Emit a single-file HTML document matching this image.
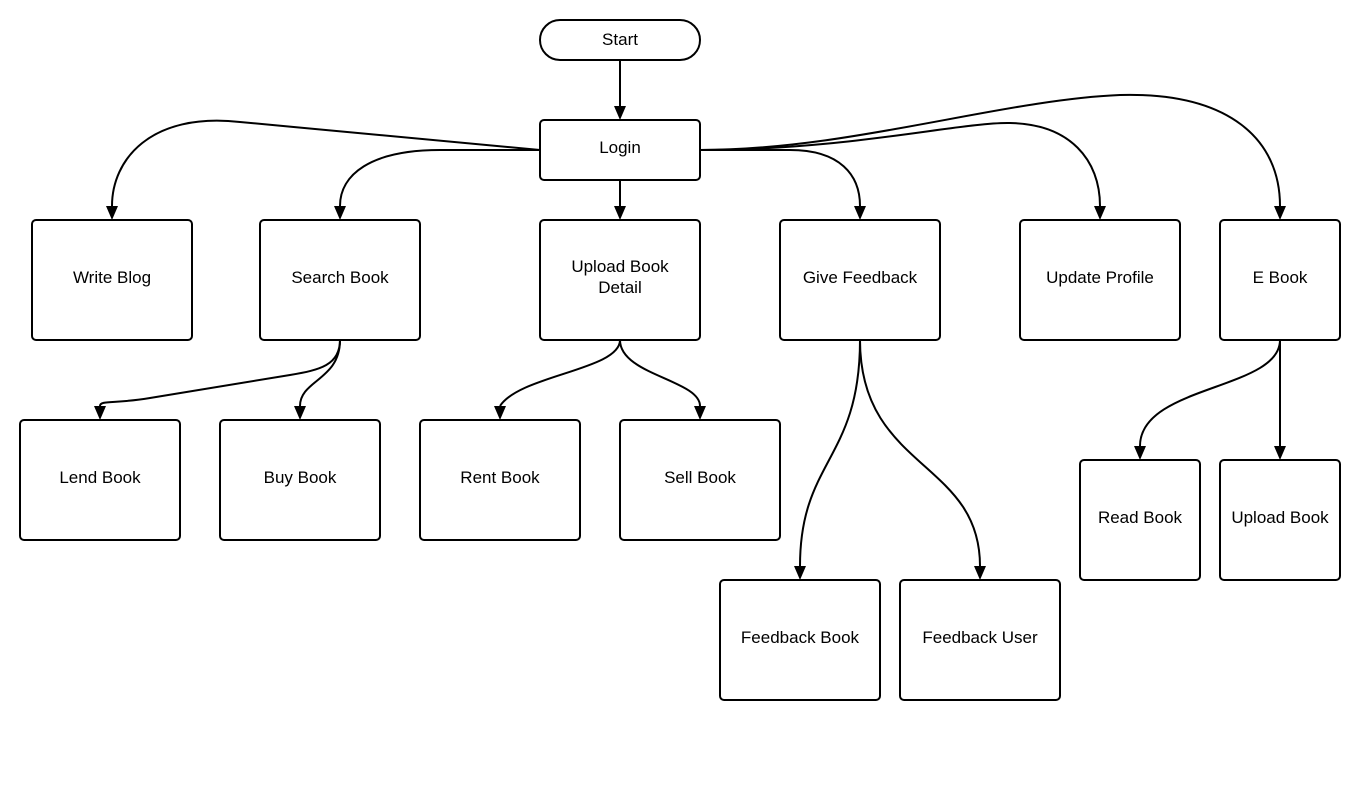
<!DOCTYPE html>
<html><head><style>
html,body{margin:0;padding:0;background:#fff;}
svg{display:block;}
text{font-family:"Liberation Sans",sans-serif;font-size:17px;fill:#000;}
</style></head><body>
<svg width="1360" height="804" viewBox="0 0 1360 804" xmlns="http://www.w3.org/2000/svg">
<defs>
<marker id="a" markerWidth="12" markerHeight="14" refX="6" refY="14" orient="auto-start-reverse" markerUnits="userSpaceOnUse" viewBox="0 0 12 14">
<path d="M0,0 L12,0 L6,14 Z" fill="#000" transform="rotate(0)"/>
</marker>
</defs>
<g fill="none" stroke="#000" stroke-width="2">
<!-- connectors; marker oriented downward manually so use path ending vertically -->
<path d="M620,60 L620,106"/>
<path d="M620,180 L620,206"/>
<path d="M540,150 L240,122 C150,112 112,160 112,206"/>
<path d="M540,150 L440,150 C370,150 340,175 340,206"/>
<path d="M700,150 L790,150 C840,150 860,175 860,206"/>
<path d="M700,150 C850,150 960,122 1010,123 C1070,124 1100,160 1100,206"/>
<path d="M700,150 C850,150 1000,100 1120,95 C1230,92 1280,140 1280,206"/>
<path d="M340,340 C340,365 320,370 290,375 L150,398 C115,404 100,400 100,406"/>
<path d="M340,340 C340,380 300,380 300,406"/>
<path d="M620,340 C620,370 520,375 500,406"/>
<path d="M620,340 C620,375 700,380 700,406"/>
<path d="M860,340 C860,460 800,460 800,566"/>
<path d="M860,340 C860,470 980,460 980,566"/>
<path d="M1280,340 C1280,390 1140,385 1140,446"/>
<path d="M1280,340 L1280,446"/>
</g>
<g fill="#000">
<path d="M614,106 L626,106 L620,120 Z"/>
<path d="M614,206 L626,206 L620,220 Z"/>
<path d="M106,206 L118,206 L112,220 Z"/>
<path d="M334,206 L346,206 L340,220 Z"/>
<path d="M854,206 L866,206 L860,220 Z"/>
<path d="M1094,206 L1106,206 L1100,220 Z"/>
<path d="M1274,206 L1286,206 L1280,220 Z"/>
<path d="M94,406 L106,406 L100,420 Z"/>
<path d="M294,406 L306,406 L300,420 Z"/>
<path d="M494,406 L506,406 L500,420 Z"/>
<path d="M694,406 L706,406 L700,420 Z"/>
<path d="M794,566 L806,566 L800,580 Z"/>
<path d="M974,566 L986,566 L980,580 Z"/>
<path d="M1134,446 L1146,446 L1140,460 Z"/>
<path d="M1274,446 L1286,446 L1280,460 Z"/>
</g>
<g fill="#fff" stroke="#000" stroke-width="2">
<rect x="540" y="20" width="160" height="40" rx="20"/>
<rect x="540" y="120" width="160" height="60" rx="4"/>
<rect x="32" y="220" width="160" height="120" rx="4"/>
<rect x="260" y="220" width="160" height="120" rx="4"/>
<rect x="540" y="220" width="160" height="120" rx="4"/>
<rect x="780" y="220" width="160" height="120" rx="4"/>
<rect x="1020" y="220" width="160" height="120" rx="4"/>
<rect x="1220" y="220" width="120" height="120" rx="4"/>
<rect x="20" y="420" width="160" height="120" rx="4"/>
<rect x="220" y="420" width="160" height="120" rx="4"/>
<rect x="420" y="420" width="160" height="120" rx="4"/>
<rect x="620" y="420" width="160" height="120" rx="4"/>
<rect x="1080" y="460" width="120" height="120" rx="4"/>
<rect x="1220" y="460" width="120" height="120" rx="4"/>
<rect x="720" y="580" width="160" height="120" rx="4"/>
<rect x="900" y="580" width="160" height="120" rx="4"/>
</g>
<g text-anchor="middle">
<text x="620" y="45">Start</text>
<text x="620" y="153">Login</text>
<text x="112" y="283">Write Blog</text>
<text x="340" y="283">Search Book</text>
<text x="620" y="272">Upload Book</text>
<text x="620" y="293">Detail</text>
<text x="860" y="283">Give Feedback</text>
<text x="1100" y="283">Update Profile</text>
<text x="1280" y="283">E Book</text>
<text x="100" y="483">Lend Book</text>
<text x="300" y="483">Buy Book</text>
<text x="500" y="483">Rent Book</text>
<text x="700" y="483">Sell Book</text>
<text x="1140" y="523">Read Book</text>
<text x="1280" y="523">Upload Book</text>
<text x="800" y="643">Feedback Book</text>
<text x="980" y="643">Feedback User</text>
</g>
</svg>
</body></html>
